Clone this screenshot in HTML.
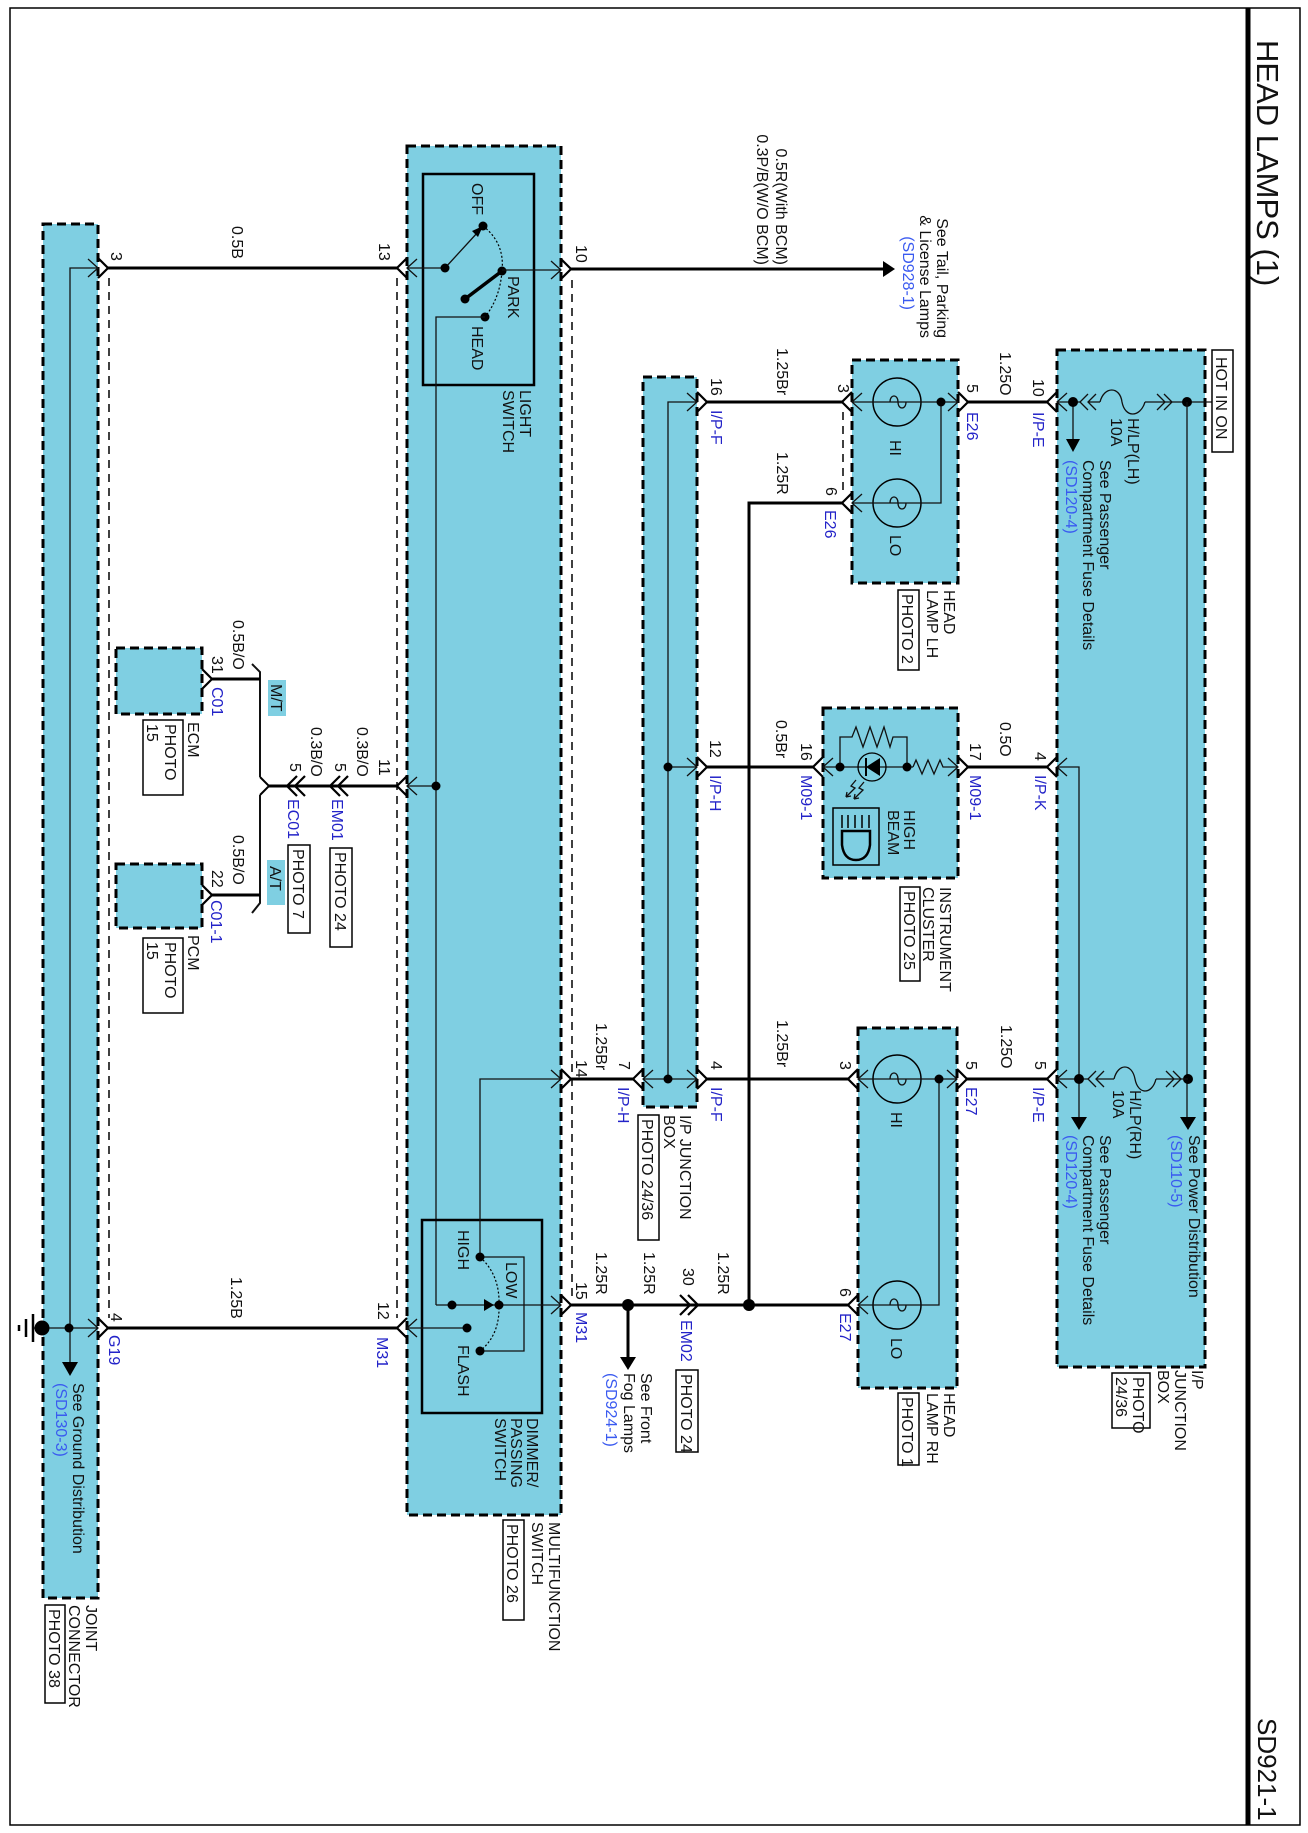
<!DOCTYPE html>
<html><head><meta charset="utf-8"><style>
html,body{margin:0;padding:0;background:#fff;}
svg{display:block;}
text{font-family:"Liberation Sans",Arial,sans-serif;font-size:16px;fill:#111;}
.b{fill:#2323c8;}
.lb{fill:#3a5af0;}
.box{fill:#7fcfe2;stroke:#000;stroke-width:3;stroke-dasharray:9 5;}
.w{stroke:#000;stroke-width:3;fill:none;}
.t{stroke:#111;stroke-width:1.3;fill:none;}
.ch{stroke:#000;stroke-width:2.2;fill:none;}
.dsh{stroke:#000;stroke-width:1.5;stroke-dasharray:8 6;fill:none;}
.pb{fill:#fff;stroke:#000;stroke-width:1.5;}
</style></head><body>
<svg width="1308" height="1833" viewBox="0 0 1308 1833" xmlns="http://www.w3.org/2000/svg">
<rect x="0" y="0" width="1308" height="1833" fill="#fff"/>
<rect x="10" y="8" width="1290" height="1817" fill="none" stroke="#000" stroke-width="1.5"/>
<line x1="1248" y1="8" x2="1248" y2="1825" stroke="#000" stroke-width="5"/>
<text x="1257" y="40" transform="rotate(90 1257 40)" style="font-size:31px">HEAD LAMPS (1)</text>
<text x="1258" y="1718" transform="rotate(90 1258 1718)" style="font-size:26px">SD921-1</text>

<!-- boxes -->
<rect class="box" x="43" y="224" width="55" height="1374"/>
<rect class="box" x="407" y="146" width="154" height="1369"/>
<rect class="box" x="643" y="377" width="54" height="730"/>
<rect class="box" x="852" y="360" width="106" height="223"/>
<rect class="box" x="823" y="708" width="135" height="170"/>
<rect class="box" x="858" y="1028" width="99" height="360"/>
<rect class="box" x="1057" y="350" width="148" height="1017"/>
<rect class="box" x="116" y="648" width="86" height="66"/>
<rect class="box" x="116" y="864" width="86" height="64"/>

<!-- thin dashed connector shells -->
<line class="dsh" x1="109" y1="278" x2="109" y2="1318"/>
<line class="dsh" x1="397" y1="278" x2="397" y2="1318"/>
<line class="dsh" x1="572" y1="280" x2="572" y2="1296"/>
<line class="dsh" x1="843" y1="412" x2="843" y2="494"/>

<!-- main wires -->
<line class="w" x1="108" y1="268" x2="397" y2="268"/>
<line class="w" x1="571" y1="269" x2="884" y2="269"/>
<polygon points="883,261 895,269 883,277" fill="#000"/>
<line class="w" x1="707" y1="402" x2="842" y2="402"/>
<line class="w" x1="968" y1="402" x2="1047" y2="402"/>
<polyline class="w" points="842,503 749,503 749,1305"/>
<line class="w" x1="707" y1="767" x2="813" y2="767"/>
<line class="w" x1="968" y1="767" x2="1047" y2="767"/>
<line class="w" x1="571" y1="1079" x2="633" y2="1079"/>
<line class="w" x1="707" y1="1079" x2="848" y2="1079"/>
<line class="w" x1="967" y1="1079" x2="1047" y2="1079"/>
<line class="w" x1="571" y1="1305" x2="848" y2="1305"/>
<line class="w" x1="628" y1="1305" x2="628" y2="1358"/>
<polygon points="620,1357 628,1370 636,1357" fill="#000"/>
<circle cx="628" cy="1305" r="6" fill="#000"/>
<circle cx="749" cy="1305" r="6" fill="#000"/>
<line class="w" x1="108" y1="1328" x2="397" y2="1328"/>
<line class="w" x1="397" y1="786" x2="269" y2="786"/>
<!-- ECM/PCM fork -->
<polyline class="w" points="260,777 269,786 260,795" style="stroke-width:2"/>
<polyline class="t" points="252,664 260,672 260,777" style="stroke-width:2"/>
<polyline class="t" points="260,795 260,903 252,913" style="stroke-width:2"/>
<line class="w" x1="260" y1="679" x2="212" y2="679"/>
<line class="w" x1="260" y1="895" x2="212" y2="895"/>
<rect x="268" y="680" width="18" height="36" fill="#7fcfe2"/>
<rect x="267" y="860" width="18" height="45" fill="#7fcfe2"/>

<!-- chevrons (outer) -->
<g class="ch">
<path d="M98,258 L108,268 L98,278"/>
<path d="M98,1318 L108,1328 L98,1338"/>
<path d="M407,258 L397,268 L407,278"/>
<path d="M407,776 L397,786 L407,796"/>
<path d="M407,1318 L397,1328 L407,1338"/>
<path d="M561,259 L571,269 L561,279"/>
<path d="M561,1069 L571,1079 L561,1089"/>
<path d="M561,1295 L571,1305 L561,1315"/>
<path d="M643,1069 L633,1079 L643,1089"/>
<path d="M697,392 L707,402 L697,412"/>
<path d="M697,757 L707,767 L697,777"/>
<path d="M697,1069 L707,1079 L697,1089"/>
<path d="M852,392 L842,402 L852,412"/>
<path d="M852,493 L842,503 L852,513"/>
<path d="M958,392 L968,402 L958,412"/>
<path d="M823,757 L813,767 L823,777"/>
<path d="M958,757 L968,767 L958,777"/>
<path d="M858,1069 L848,1079 L858,1089"/>
<path d="M858,1295 L848,1305 L858,1315"/>
<path d="M957,1069 L967,1079 L957,1089"/>
<path d="M1057,392 L1047,402 L1057,412"/>
<path d="M1057,757 L1047,767 L1057,777"/>
<path d="M1057,1069 L1047,1079 L1057,1089"/>
<path d="M202,669 L212,679 L202,689"/>
<path d="M202,885 L212,895 L202,905"/>
<path d="M340,776 L330,786 L340,796"/><path d="M348,776 L338,786 L348,796"/>
<path d="M297,776 L287,786 L297,796"/><path d="M305,776 L295,786 L305,796"/>
<path d="M680,1295 L690,1305 L680,1315"/><path d="M688,1295 L698,1305 L688,1315"/>
</g>

<!-- joint connector internals -->
<polyline class="t" points="98,268 70,268 70,1362"/>
<path class="t" d="M88,259 L98,268 L88,277"/>
<polygon points="62,1362 70,1376 78,1362" fill="#000"/>
<line class="t" x1="33" y1="1328" x2="98" y2="1328"/>
<path class="t" d="M88,1319 L98,1328 L88,1337"/>
<circle cx="69" cy="1328" r="4.5" fill="#000"/>
<circle cx="42" cy="1328" r="7.5" fill="#000"/>
<line x1="33" y1="1314" x2="33" y2="1342" stroke="#000" stroke-width="2.5"/>
<line x1="26" y1="1319" x2="26" y2="1337" stroke="#000" stroke-width="2.5"/>
<line x1="19" y1="1325" x2="19" y2="1331" stroke="#000" stroke-width="2.5"/>

<!-- light switch -->
<rect x="423" y="174" width="111" height="211" fill="none" stroke="#000" stroke-width="2.5"/>
<line class="t" x1="407" y1="268" x2="445" y2="268"/>
<path class="t" d="M417,259 L407,268 L417,277"/>
<line class="t" x1="445" y1="268" x2="478" y2="232"/>
<polygon points="483,226 472,231 478,237" fill="#000"/>
<circle cx="445" cy="268" r="4.5" fill="#000"/>
<circle cx="483" cy="226" r="4.5" fill="#000"/>
<line x1="465" y1="299" x2="502" y2="271" stroke="#000" stroke-width="3.5"/>
<circle cx="465" cy="299" r="4.5" fill="#000"/>
<circle cx="502" cy="271" r="4.5" fill="#000"/>
<circle cx="485" cy="317" r="4.5" fill="#000"/>
<path d="M483,226 Q505,243 502,271 Q500,298 485,317" fill="none" stroke="#000" stroke-width="1.2" stroke-dasharray="2 2"/>
<line class="t" x1="502" y1="270" x2="561" y2="270"/>
<path class="t" d="M551,261 L561,270 L551,279"/>
<polyline class="t" points="485,317 436,317 436,1305"/>
<line class="t" x1="407" y1="786" x2="436" y2="786"/>
<path class="t" d="M417,777 L407,786 L417,795"/>
<circle cx="436" cy="786" r="4.5" fill="#000"/>

<!-- dimmer switch -->
<rect x="422" y="1220" width="120" height="193" fill="none" stroke="#000" stroke-width="2.5"/>
<polyline class="t" points="561,1079 480,1079 480,1257"/>
<path class="t" d="M551,1070 L561,1079 L551,1088"/>
<polyline class="t" points="480,1257 524,1257 524,1351 480,1351"/>
<line class="t" x1="436" y1="1305" x2="561" y2="1305"/>
<path class="t" d="M551,1296 L561,1305 L551,1314"/>
<polygon points="484,1299 494,1305 484,1311" fill="#000"/>
<circle cx="452" cy="1305" r="4.5" fill="#000"/>
<circle cx="499" cy="1305" r="4.5" fill="#000"/>
<circle cx="480" cy="1257" r="4.5" fill="#000"/>
<circle cx="480" cy="1351" r="4.5" fill="#000"/>
<path d="M480,1257 Q500,1275 499,1305 Q500,1335 480,1351" fill="none" stroke="#000" stroke-width="1.2" stroke-dasharray="2 2"/>
<line class="t" x1="407" y1="1328" x2="467" y2="1328"/>
<path class="t" d="M417,1319 L407,1328 L417,1337"/>
<circle cx="467" cy="1328" r="4.5" fill="#000"/>

<!-- middle IP junction internals -->
<polyline class="t" points="697,402 668,402 668,1079"/>
<path class="t" d="M687,393 L697,402 L687,411"/>
<line class="t" x1="668" y1="767" x2="697" y2="767"/>
<path class="t" d="M687,758 L697,767 L687,776"/>
<line class="t" x1="643" y1="1079" x2="697" y2="1079"/>
<path class="t" d="M653,1070 L643,1079 L653,1088"/>
<path class="t" d="M687,1070 L697,1079 L687,1088"/>
<circle cx="668" cy="767" r="4.5" fill="#000"/>
<circle cx="668" cy="1079" r="4.5" fill="#000"/>

<!-- head lamp LH -->
<circle cx="897" cy="402" r="24" fill="none" stroke="#000" stroke-width="1.5"/>
<circle cx="897" cy="503" r="24" fill="none" stroke="#000" stroke-width="1.5"/>
<line class="t" x1="852" y1="402" x2="958" y2="402"/>
<path class="t" d="M862,393 L852,402 L862,411"/>
<path class="t" d="M948,393 L958,402 L948,411"/>
<path class="t" d="M890,402 c0,-8 8,-8 8,0 c0,8 8,8 8,0" />
<polyline class="t" points="941,402 941,503 852,503"/>
<path class="t" d="M862,494 L852,503 L862,512"/>
<path class="t" d="M890,503 c0,-8 8,-8 8,0 c0,8 8,8 8,0"/>
<circle cx="941" cy="402" r="4.5" fill="#000"/>

<!-- head lamp RH -->
<circle cx="897" cy="1079" r="24" fill="none" stroke="#000" stroke-width="1.5"/>
<circle cx="897" cy="1305" r="24" fill="none" stroke="#000" stroke-width="1.5"/>
<line class="t" x1="858" y1="1079" x2="957" y2="1079"/>
<path class="t" d="M868,1070 L858,1079 L868,1088"/>
<path class="t" d="M947,1070 L957,1079 L947,1088"/>
<path class="t" d="M890,1079 c0,-8 8,-8 8,0 c0,8 8,8 8,0"/>
<polyline class="t" points="939,1079 939,1305 858,1305"/>
<path class="t" d="M868,1296 L858,1305 L868,1314"/>
<path class="t" d="M890,1305 c0,-8 8,-8 8,0 c0,8 8,8 8,0"/>
<circle cx="939" cy="1079" r="4.5" fill="#000"/>

<!-- instrument cluster -->
<line class="t" x1="823" y1="767" x2="913" y2="767"/>
<path class="t" d="M833,758 L823,767 L833,776"/>
<polyline class="t" points="913,767 916,760 922,774 928,760 934,774 940,760 943,767 958,767"/>
<path class="t" d="M948,758 L958,767 L948,776"/>
<polyline class="t" points="840,767 840,737 852,737 856,727 863,747 870,727 877,747 884,727 890,747 893,737 907,737 907,767"/>
<circle cx="872" cy="767" r="14" fill="none" stroke="#000" stroke-width="1.3"/>
<polygon points="866,767 880,758 880,776" fill="#000"/>
<line x1="866" y1="758" x2="866" y2="776" stroke="#000" stroke-width="2"/>
<circle cx="840" cy="767" r="4.5" fill="#000"/>
<circle cx="907" cy="767" r="4.5" fill="#000"/>
<path class="t" d="M856,780 L851,786 L855,788 L846,797 M846,797 l1,-5 M846,797 l5,-1"/>
<path class="t" d="M864,782 L859,788 L863,790 L854,799 M854,799 l1,-5 M854,799 l5,-1"/>
<rect x="833" y="808" width="46" height="57" fill="none" stroke="#000" stroke-width="1.5"/>
<g stroke="#000" stroke-width="1.5"><line x1="842" y1="815" x2="842" y2="828"/><line x1="848" y1="815" x2="848" y2="828"/><line x1="855" y1="815" x2="855" y2="828"/><line x1="862" y1="815" x2="862" y2="828"/><line x1="869" y1="815" x2="869" y2="828"/></g>
<path d="M842,831 L870,831 L870,845 Q868,860 856,860 Q844,860 842,845 Z" fill="none" stroke="#000" stroke-width="2.5"/>

<!-- top IP junction internals -->
<line class="t" x1="1057" y1="402" x2="1080" y2="402"/>
<path class="t" d="M1067,393 L1057,402 L1067,411"/>
<path class="t" d="M1088,394 L1080,402 L1088,410 M1096,394 L1088,402 L1096,410"/>
<line class="t" x1="1088" y1="402" x2="1100" y2="402"/>
<path class="t" d="M1100,402 C1104,386 1120,386 1122,402 C1125,418 1140,418 1145,402"/>
<line class="t" x1="1145" y1="402" x2="1172" y2="402"/>
<path class="t" d="M1157,394 L1165,402 L1157,410 M1164,394 L1172,402 L1164,410"/>
<line class="t" x1="1172" y1="402" x2="1212" y2="402"/>
<line class="t" x1="1073" y1="402" x2="1073" y2="440"/>
<polygon points="1066,439 1073,452 1080,439" fill="#000"/>
<circle cx="1073" cy="402" r="5" fill="#000"/>
<circle cx="1187" cy="402" r="5" fill="#000"/>
<line class="t" x1="1187" y1="402" x2="1187" y2="1118"/>
<polygon points="1180,1117 1188,1130 1196,1117" fill="#000"/>
<circle cx="1188" cy="1079" r="5" fill="#000"/>
<polyline class="t" points="1057,767 1079,767 1079,1118"/>
<path class="t" d="M1067,758 L1057,767 L1067,776"/>
<polygon points="1071,1117 1079,1130 1087,1117" fill="#000"/>
<line class="t" x1="1057" y1="1079" x2="1088" y2="1079"/>
<path class="t" d="M1067,1070 L1057,1079 L1067,1088"/>
<path class="t" d="M1096,1071 L1088,1079 L1096,1087 M1104,1071 L1096,1079 L1104,1087"/>
<line class="t" x1="1096" y1="1079" x2="1114" y2="1079"/>
<path class="t" d="M1114,1079 C1118,1063 1132,1063 1135,1079 C1138,1095 1152,1095 1156,1079"/>
<line class="t" x1="1156" y1="1079" x2="1188" y2="1079"/>
<path class="t" d="M1166,1071 L1174,1079 L1166,1087 M1173,1071 L1181,1079 L1173,1087"/>
<circle cx="1079" cy="1079" r="5" fill="#000"/>
<rect class="pb" x="1212" y="350" width="21" height="102"/>

<!-- TEXT (rotated) -->
<g>
<text x="1216" y="357" transform="rotate(90 1216 357)">HOT IN ON</text>
<text x="1128" y="418" transform="rotate(90 1128 418)">H/LP(LH)</text>
<text x="1111" y="418" transform="rotate(90 1111 418)">10A</text>
<text x="1100" y="460" transform="rotate(90 1100 460)">See Passenger</text>
<text x="1083" y="460" transform="rotate(90 1083 460)">Compartment Fuse Details</text>
<text x="1066" y="460" transform="rotate(90 1066 460)" class="lb">(SD120-4)</text>
<text x="1130" y="1090" transform="rotate(90 1130 1090)">H/LP(RH)</text>
<text x="1113" y="1090" transform="rotate(90 1113 1090)">10A</text>
<text x="1100" y="1135" transform="rotate(90 1100 1135)">See Passenger</text>
<text x="1083" y="1135" transform="rotate(90 1083 1135)">Compartment Fuse Details</text>
<text x="1066" y="1135" transform="rotate(90 1066 1135)" class="lb">(SD120-4)</text>
<text x="1189" y="1135" transform="rotate(90 1189 1135)">See Power Distribution</text>
<text x="1171" y="1135" transform="rotate(90 1171 1135)" class="lb">(SD110-5)</text>
<text x="1192" y="1370" transform="rotate(90 1192 1370)">I/P</text>
<text x="1175" y="1370" transform="rotate(90 1175 1370)">JUNCTION</text>
<text x="1158" y="1370" transform="rotate(90 1158 1370)">BOX</text>
<rect class="pb" x="1112" y="1373" width="38" height="55"/>
<text x="1133" y="1377" transform="rotate(90 1133 1377)">PHOTO</text>
<text x="1116" y="1377" transform="rotate(90 1116 1377)">24/36</text>

<text x="944" y="590" transform="rotate(90 944 590)">HEAD</text>
<text x="927" y="590" transform="rotate(90 927 590)">LAMP LH</text>
<rect class="pb" x="898" y="590" width="21" height="80"/>
<text x="902" y="594" transform="rotate(90 902 594)">PHOTO 2</text>
<text x="890" y="440" transform="rotate(90 890 440)">HI</text>
<text x="890" y="535" transform="rotate(90 890 535)">LO</text>

<text x="944" y="1393" transform="rotate(90 944 1393)">HEAD</text>
<text x="927" y="1393" transform="rotate(90 927 1393)">LAMP RH</text>
<rect class="pb" x="898" y="1393" width="21" height="72"/>
<text x="902" y="1397" transform="rotate(90 902 1397)">PHOTO 1</text>
<text x="891" y="1112" transform="rotate(90 891 1112)">HI</text>
<text x="891" y="1338" transform="rotate(90 891 1338)">LO</text>

<text x="904" y="810" transform="rotate(90 904 810)">HIGH</text>
<text x="888" y="810" transform="rotate(90 888 810)">BEAM</text>
<text x="940" y="887" transform="rotate(90 940 887)">INSTRUMENT</text>
<text x="923" y="887" transform="rotate(90 923 887)">CLUSTER</text>
<rect class="pb" x="900" y="887" width="20" height="94"/>
<text x="904" y="891" transform="rotate(90 904 891)">PHOTO 25</text>

<text x="680" y="1115" transform="rotate(90 680 1115)">I/P JUNCTION</text>
<text x="664" y="1115" transform="rotate(90 664 1115)">BOX</text>
<rect class="pb" x="638" y="1115" width="21" height="125"/>
<text x="642" y="1119" transform="rotate(90 642 1119)">PHOTO 24/36</text>

<text x="472" y="183" transform="rotate(90 472 183)">OFF</text>
<text x="508" y="276" transform="rotate(90 508 276)">PARK</text>
<text x="472" y="326" transform="rotate(90 472 326)">HEAD</text>
<text x="520" y="390" transform="rotate(90 520 390)">LIGHT</text>
<text x="503" y="390" transform="rotate(90 503 390)">SWITCH</text>

<text x="458" y="1230" transform="rotate(90 458 1230)">HIGH</text>
<text x="506" y="1262" transform="rotate(90 506 1262)">LOW</text>
<text x="458" y="1345" transform="rotate(90 458 1345)">FLASH</text>
<text x="527" y="1418" transform="rotate(90 527 1418)">DIMMER/</text>
<text x="511" y="1418" transform="rotate(90 511 1418)">PASSING</text>
<text x="495" y="1418" transform="rotate(90 495 1418)">SWITCH</text>
<text x="549" y="1522" transform="rotate(90 549 1522)">MULTIFUNCTION</text>
<text x="532" y="1522" transform="rotate(90 532 1522)">SWITCH</text>
<rect class="pb" x="503" y="1520" width="21" height="100"/>
<text x="507" y="1524" transform="rotate(90 507 1524)">PHOTO 26</text>

<text x="86" y="1605" transform="rotate(90 86 1605)">JOINT</text>
<text x="69" y="1605" transform="rotate(90 69 1605)">CONNECTOR</text>
<rect class="pb" x="45" y="1605" width="20" height="98"/>
<text x="49" y="1609" transform="rotate(90 49 1609)">PHOTO 38</text>
<text x="73" y="1383" transform="rotate(90 73 1383)">See Ground Distribution</text>
<text x="56" y="1383" transform="rotate(90 56 1383)" class="lb">(SD130-3)</text>

<text x="188" y="722" transform="rotate(90 188 722)">ECM</text>
<rect class="pb" x="143" y="720" width="40" height="75"/>
<text x="165" y="724" transform="rotate(90 165 724)">PHOTO</text>
<text x="147" y="724" transform="rotate(90 147 724)">15</text>
<text x="188" y="935" transform="rotate(90 188 935)">PCM</text>
<rect class="pb" x="143" y="938" width="40" height="75"/>
<text x="165" y="942" transform="rotate(90 165 942)">PHOTO</text>
<text x="147" y="942" transform="rotate(90 147 942)">15</text>
<text x="271" y="684" transform="rotate(90 271 684)">M/T</text>
<text x="270" y="866" transform="rotate(90 270 866)">A/T</text>
<text x="233" y="620" transform="rotate(90 233 620)">0.5B/O</text>
<text x="233" y="835" transform="rotate(90 233 835)">0.5B/O</text>
<text x="212" y="656" transform="rotate(90 212 656)">31</text>
<text x="212" y="687" transform="rotate(90 212 687)" class="b">C01</text>
<text x="212" y="870" transform="rotate(90 212 870)">22</text>
<text x="211" y="900" transform="rotate(90 211 900)" class="b">C01-1</text>
<text x="311" y="727" transform="rotate(90 311 727)">0.3B/O</text>
<text x="357" y="727" transform="rotate(90 357 727)">0.3B/O</text>
<text x="379" y="759" transform="rotate(90 379 759)">11</text>
<text x="290" y="763" transform="rotate(90 290 763)">5</text>
<text x="335" y="763" transform="rotate(90 335 763)">5</text>
<text x="288" y="799" transform="rotate(90 288 799)" class="b">EC01</text>
<text x="332" y="799" transform="rotate(90 332 799)" class="b">EM01</text>
<rect class="pb" x="288" y="845" width="22" height="88"/>
<text x="293" y="849" transform="rotate(90 293 849)">PHOTO 7</text>
<rect class="pb" x="330" y="848" width="22" height="99"/>
<text x="335" y="852" transform="rotate(90 335 852)">PHOTO 24</text>

<text x="111" y="252" transform="rotate(90 111 252)">3</text>
<text x="232" y="226" transform="rotate(90 232 226)">0.5B</text>
<text x="379" y="243" transform="rotate(90 379 243)">13</text>
<text x="576" y="245" transform="rotate(90 576 245)">10</text>
<text x="776" y="265" transform="rotate(90 776 265)" text-anchor="end">0.5R(With BCM)</text>
<text x="757" y="265" transform="rotate(90 757 265)" text-anchor="end">0.3P/B(W/O BCM)</text>
<text x="937" y="338" transform="rotate(90 937 338)" text-anchor="end">See Tail, Parking</text>
<text x="920" y="338" transform="rotate(90 920 338)" text-anchor="end">&amp; License Lamps</text>
<text x="903" y="310" transform="rotate(90 903 310)" text-anchor="end" class="lb">(SD928-1)</text>

<text x="711" y="378" transform="rotate(90 711 378)">16</text>
<text x="711" y="410" transform="rotate(90 711 410)" class="b">I/P-F</text>
<text x="777" y="348" transform="rotate(90 777 348)">1.25Br</text>
<text x="838" y="384" transform="rotate(90 838 384)">3</text>
<text x="967" y="384" transform="rotate(90 967 384)">5</text>
<text x="967" y="412" transform="rotate(90 967 412)" class="b">E26</text>
<text x="1000" y="352" transform="rotate(90 1000 352)">1.25O</text>
<text x="1033" y="379" transform="rotate(90 1033 379)">10</text>
<text x="1033" y="412" transform="rotate(90 1033 412)" class="b">I/P-E</text>
<text x="826" y="487" transform="rotate(90 826 487)">6</text>
<text x="825" y="510" transform="rotate(90 825 510)" class="b">E26</text>
<text x="777" y="452" transform="rotate(90 777 452)">1.25R</text>

<text x="710" y="740" transform="rotate(90 710 740)">12</text>
<text x="710" y="775" transform="rotate(90 710 775)" class="b">I/P-H</text>
<text x="776" y="720" transform="rotate(90 776 720)">0.5Br</text>
<text x="801" y="743" transform="rotate(90 801 743)">16</text>
<text x="801" y="775" transform="rotate(90 801 775)" class="b">M09-1</text>
<text x="970" y="743" transform="rotate(90 970 743)">17</text>
<text x="970" y="775" transform="rotate(90 970 775)" class="b">M09-1</text>
<text x="1000" y="722" transform="rotate(90 1000 722)">0.5O</text>
<text x="1035" y="752" transform="rotate(90 1035 752)">4</text>
<text x="1035" y="775" transform="rotate(90 1035 775)" class="b">I/P-K</text>

<text x="576" y="1060" transform="rotate(90 576 1060)">14</text>
<text x="596" y="1023" transform="rotate(90 596 1023)">1.25Br</text>
<text x="619" y="1061" transform="rotate(90 619 1061)">7</text>
<text x="618" y="1087" transform="rotate(90 618 1087)" class="b">I/P-H</text>
<text x="711" y="1061" transform="rotate(90 711 1061)">4</text>
<text x="711" y="1087" transform="rotate(90 711 1087)" class="b">I/P-F</text>
<text x="777" y="1020" transform="rotate(90 777 1020)">1.25Br</text>
<text x="840" y="1061" transform="rotate(90 840 1061)">3</text>
<text x="966" y="1061" transform="rotate(90 966 1061)">5</text>
<text x="966" y="1087" transform="rotate(90 966 1087)" class="b">E27</text>
<text x="1001" y="1025" transform="rotate(90 1001 1025)">1.25O</text>
<text x="1035" y="1061" transform="rotate(90 1035 1061)">5</text>
<text x="1033" y="1087" transform="rotate(90 1033 1087)" class="b">I/P-E</text>

<text x="576" y="1282" transform="rotate(90 576 1282)">15</text>
<text x="576" y="1312" transform="rotate(90 576 1312)" class="b">M31</text>
<text x="596" y="1252" transform="rotate(90 596 1252)">1.25R</text>
<text x="644" y="1252" transform="rotate(90 644 1252)">1.25R</text>
<text x="683" y="1268" transform="rotate(90 683 1268)">30</text>
<text x="681" y="1320" transform="rotate(90 681 1320)" class="b">EM02</text>
<rect class="pb" x="676" y="1370" width="22" height="82"/>
<text x="681" y="1374" transform="rotate(90 681 1374)">PHOTO 24</text>
<text x="718" y="1252" transform="rotate(90 718 1252)">1.25R</text>
<text x="840" y="1288" transform="rotate(90 840 1288)">6</text>
<text x="840" y="1313" transform="rotate(90 840 1313)" class="b">E27</text>
<text x="641" y="1373" transform="rotate(90 641 1373)">See Front</text>
<text x="624" y="1373" transform="rotate(90 624 1373)">Fog Lamps</text>
<text x="606" y="1373" transform="rotate(90 606 1373)" class="lb">(SD924-1)</text>

<text x="378" y="1302" transform="rotate(90 378 1302)">12</text>
<text x="377" y="1337" transform="rotate(90 377 1337)" class="b">M31</text>
<text x="231" y="1277" transform="rotate(90 231 1277)">1.25B</text>
<text x="111" y="1313" transform="rotate(90 111 1313)">4</text>
<text x="109" y="1335" transform="rotate(90 109 1335)" class="b">G19</text>
</g>
</svg>
</body></html>
